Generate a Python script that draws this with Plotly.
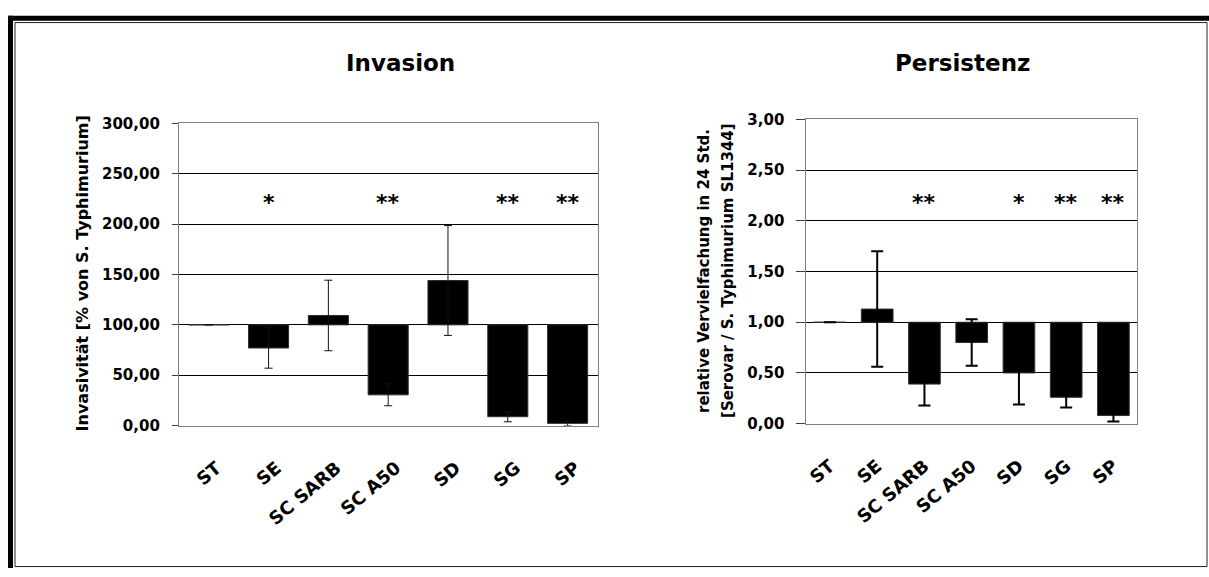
import plotly.graph_objects as go

W, H = 1209, 577

categories = ["ST", "SE", "SC SARB", "SC A50", "SD", "SG", "SP"]

# Invasion (left)
inv_values = [100.0, 77.0, 109.3, 30.5, 144.0, 8.8, 2.2]
inv_errors = [0.0, 20.0, 35.0, 10.8, 54.5, 5.0, 2.2]
inv_signif = ["", "*", "", "**", "", "**", "**"]
inv_base = 100.0
inv_star_level = 224.0
inv_tickvals = [0, 50, 100, 150, 200, 250, 300]
inv_ticktext = ["0,00", "50,00", "100,00", "150,00", "200,00", "250,00", "300,00"]

# Persistenz (right)
per_values = [1.00, 1.13, 0.39, 0.80, 0.50, 0.26, 0.08]
per_errors = [0.0, 0.57, 0.21, 0.23, 0.31, 0.10, 0.06]
per_signif = ["", "", "**", "", "*", "**", "**"]
per_base = 1.0
per_star_level = 2.21
per_tickvals = [0, 0.5, 1, 1.5, 2, 2.5, 3]
per_ticktext = ["0,00", "0,50", "1,00", "1,50", "2,00", "2,50", "3,00"]

FONT = "DejaVu Sans"


def px(x):
    return x / W


def py(y):
    return 1 - y / H


fig = go.Figure()

# bars drawn from the reference level (base)
fig.add_trace(go.Bar(
    x=categories, y=[v - inv_base for v in inv_values], base=inv_base,
    marker=dict(color="#000000", line=dict(color="#303030", width=1)),
    xaxis="x", yaxis="y", showlegend=False, hoverinfo="skip"))
fig.add_trace(go.Scatter(
    x=categories, y=inv_values, mode="markers",
    marker=dict(size=1, color="rgba(0,0,0,0)"),
    error_y=dict(type="data", array=inv_errors, visible=True,
                 color="#111111", thickness=1, width=4),
    xaxis="x", yaxis="y", showlegend=False, hoverinfo="skip"))

fig.add_trace(go.Bar(
    x=categories, y=[v - per_base for v in per_values], base=per_base,
    marker=dict(color="#000000", line=dict(color="#303030", width=1)),
    xaxis="x2", yaxis="y2", showlegend=False, hoverinfo="skip"))
fig.add_trace(go.Scatter(
    x=categories, y=per_values, mode="markers",
    marker=dict(size=1, color="rgba(0,0,0,0)"),
    error_y=dict(type="data", array=per_errors, visible=True,
                 color="#000000", thickness=2, width=6),
    xaxis="x2", yaxis="y2", showlegend=False, hoverinfo="skip"))

annotations = []
for cat, s in zip(categories, inv_signif):
    if s:
        annotations.append(dict(x=cat, y=inv_star_level, xref="x", yref="y", text=s,
                                showarrow=False, yshift=-3,
                                font=dict(family=FONT, size=22, color="#000", weight="bold")))
for cat, s in zip(categories, per_signif):
    if s:
        annotations.append(dict(x=cat, y=per_star_level, xref="x2", yref="y2", text=s,
                                showarrow=False, yshift=-3,
                                font=dict(family=FONT, size=22, color="#000", weight="bold")))

# titles
annotations.append(dict(x=px(400), y=py(56), xref="paper", yref="paper", text="Invasion",
                        showarrow=False, xanchor="center", yanchor="middle",
                        font=dict(family=FONT, size=23, color="#000", weight="bold")))
annotations.append(dict(x=px(962), y=py(56), xref="paper", yref="paper", text="Persistenz",
                        showarrow=False, xanchor="center", yanchor="middle",
                        font=dict(family=FONT, size=23, color="#000", weight="bold")))

# y axis titles
annotations.append(dict(x=px(82), y=py(273), xref="paper", yref="paper",
                        text="Invasivität [% von S. Typhimurium]", textangle=-90,
                        showarrow=False, xanchor="center", yanchor="middle",
                        font=dict(family=FONT, size=16, color="#000", weight="bold")))
annotations.append(dict(x=px(703), y=py(270), xref="paper", yref="paper",
                        text="relative Vervielfachung in 24 Std.", textangle=-90,
                        showarrow=False, xanchor="center", yanchor="middle",
                        font=dict(family=FONT, size=15, color="#000", weight="bold")))
annotations.append(dict(x=px(727), y=py(270), xref="paper", yref="paper",
                        text="[Serovar / S. Typhimurium SL1344]", textangle=-90,
                        showarrow=False, xanchor="center", yanchor="middle",
                        font=dict(family=FONT, size=15, color="#000", weight="bold")))

tickfont_y = dict(family=FONT, size=15, color="#000", weight="bold")
tickfont_x = dict(family=FONT, size=18, color="#000", weight="bold")

xcommon = dict(type="category", showline=True, linecolor="#808080", linewidth=1,
               mirror=True, ticks="", tickangle=-40, tickfont=tickfont_x,
               ticklabelstandoff=24, showgrid=False, zeroline=False,
               range=[-0.5, 6.5], fixedrange=True)
ycommon = dict(showline=True, linecolor="#808080", linewidth=1, mirror=True,
               ticks="outside", tickcolor="#404040", tickwidth=1,
               showgrid=True, gridcolor="#000000", gridwidth=1, zeroline=False,
               tickfont=tickfont_y, fixedrange=True)

shapes = [
    # thick black frame parts (top / left)
    dict(type="rect", xref="paper", yref="paper", x0=px(7), x1=1, y0=py(12), y1=py(7),
         fillcolor="#000", line=dict(width=0), layer="above"),
    dict(type="rect", xref="paper", yref="paper", x0=px(7), x1=px(12), y0=0, y1=py(7),
         fillcolor="#000", line=dict(width=0), layer="above"),
    # thin inner frame
    dict(type="rect", xref="paper", yref="paper", x0=px(14), x1=px(1207), y0=py(575.5), y1=py(14),
         line=dict(color="#222222", width=1), layer="above"),
]

fig.update_layout(
    width=W, height=H, autosize=False,
    margin=dict(l=0, r=0, t=0, b=0),
    paper_bgcolor="#ffffff", plot_bgcolor="#ffffff",
    bargap=0.33, showlegend=False,
    xaxis=dict(domain=[px(178), px(597)], anchor="y", ticklabelshift=8, **xcommon),
    yaxis=dict(domain=[py(430), py(118)], anchor="x", range=[0, 300],
               tickvals=inv_tickvals, ticktext=inv_ticktext, ticklen=6,
               ticklabelstandoff=9, **ycommon),
    xaxis2=dict(domain=[px(806), px(1137)], anchor="y2", **xcommon),
    yaxis2=dict(domain=[py(428), py(114)], anchor="x2", range=[0, 3],
                tickvals=per_tickvals, ticktext=per_ticktext, ticklen=9,
                ticklabelstandoff=9, **ycommon),
    annotations=annotations,
    shapes=shapes,
)

fig.write_html("out.html")
